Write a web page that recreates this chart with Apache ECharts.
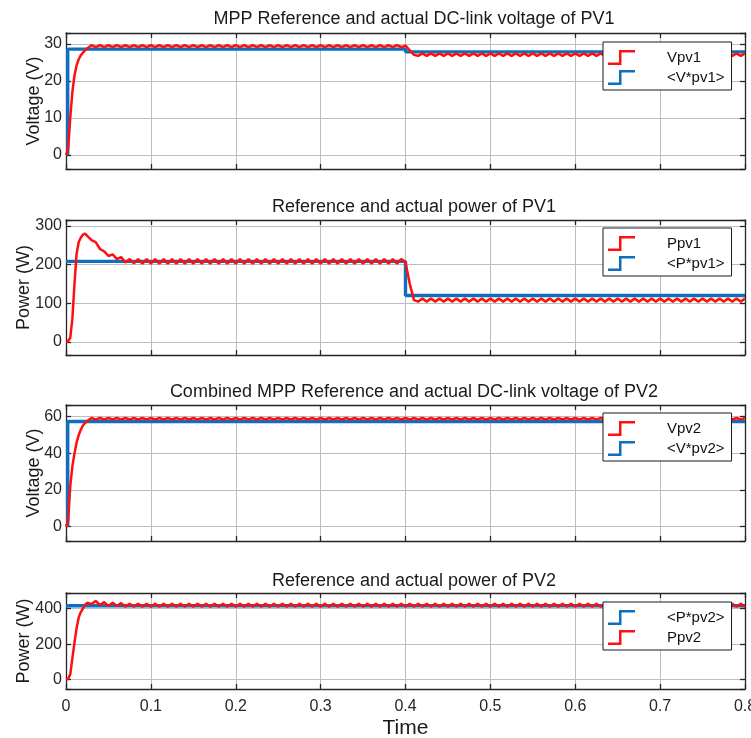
<!DOCTYPE html>
<html>
<head>
<meta charset="utf-8">
<script src="https://cdn.jsdelivr.net/npm/echarts@6/dist/echarts.min.js"></script>
<style>html,body{margin:0;padding:0;background:#fff;}#c{width:751px;height:738px;}</style>
</head>
<body>
<div id="c"></div>
<script>
// ---------- DATA ----------
const titles = [
  'MPP Reference and actual DC-link voltage of PV1',
  'Reference and actual power of PV1',
  'Combined MPP Reference and actual DC-link voltage of PV2',
  'Reference and actual power of PV2'
];
const yNames = ['Voltage (V)', 'Power (W)', 'Voltage (V)', 'Power (W)'];
const xTicks = [0, 0.1, 0.2, 0.3, 0.4, 0.5, 0.6, 0.7, 0.8];
const yTicks1 = [0, 10, 20, 30];
const yTicks2 = [0, 100, 200, 300];
const yTicks3 = [0, 20, 40, 60];
const yTicks4 = [0, 200, 400];

// sample times (s)
const T = [0,0.0025,0.005,0.0075,0.01,0.0125,0.015,0.0175,0.02,0.0225,0.025,
  0.03,0.035,0.04,0.045,0.05,0.055,0.06,0.065,0.07,0.075,0.08,0.085,0.09,0.095,
  0.1,0.105,0.11,0.115,0.12,0.125,0.13,0.135,0.14,0.145,0.15,0.155,0.16,0.165,0.17,0.175,0.18,0.185,0.19,0.195,
  0.2,0.205,0.21,0.215,0.22,0.225,0.23,0.235,0.24,0.245,0.25,0.255,0.26,0.265,0.27,0.275,0.28,0.285,0.29,0.295,
  0.3,0.305,0.31,0.315,0.32,0.325,0.33,0.335,0.34,0.345,0.35,0.355,0.36,0.365,0.37,0.375,0.38,0.385,0.39,0.395,
  0.4,0.405,0.41,0.415,0.42,0.425,0.43,0.435,0.44,0.445,0.45,0.455,0.46,0.465,0.47,0.475,0.48,0.485,0.49,0.495,
  0.5,0.505,0.51,0.515,0.52,0.525,0.53,0.535,0.54,0.545,0.55,0.555,0.56,0.565,0.57,0.575,0.58,0.585,0.59,0.595,
  0.6,0.605,0.61,0.615,0.62,0.625,0.63,0.635,0.64,0.645,0.65,0.655,0.66,0.665,0.67,0.675,0.68,0.685,0.69,0.695,
  0.7,0.705,0.71,0.715,0.72,0.725,0.73,0.735,0.74,0.745,0.75,0.755,0.76,0.765,0.77,0.775,0.78,0.785,0.79,0.795,
  0.8];

// Panel 1: Vpv1 (actual) and <V*pv1> (reference)
const Vpv1 = [0,1.5,10,17,21.5,24.3,25.9,27,27.7,28.3,28.8,
  29.7,29.15,29.7,29.15,29.7,29.15,29.7,29.15,29.7,29.15,29.7,29.15,29.7,29.15,
  29.7,29.15,29.7,29.15,29.7,29.15,29.7,29.15,29.7,29.15,29.7,29.15,29.7,29.15,29.7,29.15,29.7,29.15,29.7,29.15,
  29.7,29.15,29.7,29.15,29.7,29.15,29.7,29.15,29.7,29.15,29.7,29.15,29.7,29.15,29.7,29.15,29.7,29.15,29.7,29.15,
  29.7,29.15,29.7,29.15,29.7,29.15,29.7,29.15,29.7,29.15,29.7,29.15,29.7,29.15,29.7,29.15,29.7,29.15,29.7,29.15,
  29.6,28.3,27.1,26.8,27.5,26.8,27.5,26.8,27.5,26.8,27.5,26.8,27.5,26.8,27.5,26.8,27.5,26.8,27.5,26.8,
  27.5,26.8,27.5,26.8,27.5,26.8,27.5,26.8,27.5,26.8,27.5,26.8,27.5,26.8,27.5,26.8,27.5,26.8,27.5,26.8,
  27.5,26.8,27.5,26.8,27.5,26.8,27.5,26.8,27.5,26.8,27.5,26.8,27.5,26.8,27.5,26.8,27.5,26.8,27.5,26.8,
  27.5,26.8,27.5,26.8,27.5,26.8,27.5,26.8,27.5,26.8,27.5,26.8,27.5,26.8,27.5,26.8,27.5,26.8,27.5,26.8,
  27.5];
const refT1 = [0.002, 0.002, 0.4, 0.4, 0.8];
const Vref1 = [0, 28.65, 28.65, 27.9, 27.9];

// Panel 2: Ppv1 (actual) and <P*pv1> (reference)
const Ppv1 = [0,2,10,60,150,228,258,270,277,280,274,
  263,258,240,234,222,226,214,219,205,214,203,214,202,214,
  202,214,202,214,202,214,202,214,202,214,202,214,202,214,202,214,202,214,202,214,
  202,214,202,214,202,214,202,214,202,214,202,214,202,214,202,214,202,214,202,214,
  202,214,202,214,202,214,202,214,202,214,202,214,202,214,202,214,202,214,202,214,
  206,150,108,104,112,104,112,104,112,104,112,104,112,104,112,104,112,104,112,104,
  112,104,112,104,112,104,112,104,112,104,112,104,112,104,112,104,112,104,112,104,
  112,104,112,104,112,104,112,104,112,104,112,104,112,104,112,104,112,104,112,104,
  112,104,112,104,112,104,112,104,112,104,112,104,112,104,112,104,112,104,112,104,
  112];
const refT2 = [0, 0.4, 0.4, 0.8];
const Pref1 = [208, 208, 120, 120];

// Panel 3: Vpv2 (actual) and <V*pv2> (reference)
const Vpv2 = [0,3,22,33,40,46,50,53,55.2,56.6,57.6,
  59.3,58.5,59.3,58.5,59.3,58.5,59.3,58.5,59.3,58.5,59.3,58.5,59.3,58.5,
  59.3,58.5,59.3,58.5,59.3,58.5,59.3,58.5,59.3,58.5,59.3,58.5,59.3,58.5,59.3,58.5,59.3,58.5,59.3,58.5,
  59.3,58.5,59.3,58.5,59.3,58.5,59.3,58.5,59.3,58.5,59.3,58.5,59.3,58.5,59.3,58.5,59.3,58.5,59.3,58.5,
  59.3,58.5,59.3,58.5,59.3,58.5,59.3,58.5,59.3,58.5,59.3,58.5,59.3,58.5,59.3,58.5,59.3,58.5,59.3,58.5,
  59.3,58.5,59.3,58.5,59.3,58.5,59.3,58.5,59.3,58.5,59.3,58.5,59.3,58.5,59.3,58.5,59.3,58.5,59.3,58.5,
  59.3,58.5,59.3,58.5,59.3,58.5,59.3,58.5,59.3,58.5,59.3,58.5,59.3,58.5,59.3,58.5,59.3,58.5,59.3,58.5,
  59.3,58.5,59.3,58.5,59.3,58.5,59.3,58.5,59.3,58.5,59.3,58.5,59.3,58.5,59.3,58.5,59.3,58.5,59.3,58.5,
  59.3,58.5,59.3,58.5,59.3,58.5,59.3,58.5,59.3,58.5,59.3,58.5,59.3,58.5,59.3,58.5,59.3,58.5,59.3,58.5,
  59.3];
const refT3 = [0.002, 0.002, 0.8];
const Vref2 = [0, 57.4, 57.4];

// Panel 4: <P*pv2> (reference) and Ppv2 (actual)
const Ppv2 = [0,5,30,120,210,290,350,380,400,420,432,
  425,442,420,436,414,432,414,430,410,427,410,427,410,427,
  410,427,410,427,410,427,410,427,410,427,410,427,410,427,410,427,410,427,410,427,
  410,427,410,427,410,427,410,427,410,427,410,427,410,427,410,427,410,427,410,427,
  410,427,410,427,410,427,410,427,410,427,410,427,410,427,410,427,410,427,410,427,
  410,427,410,427,410,427,410,427,410,427,410,427,410,427,410,427,410,427,410,427,
  410,427,410,427,410,427,410,427,410,427,410,427,410,427,410,427,410,427,410,427,
  410,427,410,427,410,427,410,427,410,427,410,427,410,427,410,427,410,427,410,427,
  410,427,410,427,410,427,410,427,410,427,410,427,410,427,410,427,410,427,410,427,
  410];
const refT4 = [0, 0.8];
const Pref2 = [415, 415];

// ---------- LAYOUT / STYLE ----------
const FONT = '"Liberation Sans", Arial, Helvetica, sans-serif';
const RED = '#ff1010', BLUE = '#0f6fbf';
const AXC = '#262626', GRIDC = '#bdbdbd';
const grids = [
  {left: 66, right: 6, top: 33, height: 136, outerBoundsMode: 'none', containLabel: false},
  {left: 66, right: 6, top: 220, height: 135, outerBoundsMode: 'none', containLabel: false},
  {left: 66, right: 6, top: 405, height: 136, outerBoundsMode: 'none', containLabel: false},
  {left: 66, right: 6, top: 593, height: 96, outerBoundsMode: 'none', containLabel: false}
];
const yRanges = [[-3.8, 33], [-34, 315], [-7.8, 66.4], [-52, 487]];
const yTickSets = [yTicks1, yTicks2, yTicks3, yTicks4];
const yNameGaps = [23, 33, 23, 33];
const titleTops = [10, 198, 383, 572];
const legendTops = [42, 228, 413, 602];

const pairs = (xs, ys) => xs.map((x, i) => [x, ys[i]]);
const onTick = (ticks, v) => ticks.some(t => Math.abs(t - v) < 1e-9);

const xAxes = [], yAxes = [];
for (let i = 0; i < 4; i++) {
  xAxes.push({
    type: 'value', gridIndex: i, min: 0, max: 0.8, interval: 0.1, position: 'bottom',
    axisLine: {show: true, onZero: false, lineStyle: {color: AXC, width: 1.3}},
    axisTick: {show: true, inside: true, length: 5, lineStyle: {color: AXC, width: 1.3}},
    splitLine: {show: true, lineStyle: {color: GRIDC, width: 1}},
    axisLabel: {show: i === 3, margin: 10, fontSize: 16, color: '#262626', fontFamily: FONT,
      formatter: v => onTick(xTicks, v) ? String(Math.round(v * 10) / 10) : ''},
    name: i === 3 ? 'Time' : '', nameLocation: 'middle', nameGap: 29, nameMoveOverlap: false,
    nameTextStyle: {fontSize: 21, color: '#1a1a1a', fontFamily: FONT}
  });
  xAxes.push({
    type: 'value', gridIndex: i, min: 0, max: 0.8, interval: 0.1, position: 'top',
    axisLine: {show: true, onZero: false, lineStyle: {color: AXC, width: 1.3}},
    axisTick: {show: true, inside: true, length: 5, lineStyle: {color: AXC, width: 1.3}},
    splitLine: {show: false}, axisLabel: {show: false}
  });
  yAxes.push({
    type: 'value', gridIndex: i, min: yRanges[i][0], max: yRanges[i][1], splitNumber: 3, position: 'left',
    axisLine: {show: true, onZero: false, lineStyle: {color: AXC, width: 1.3}},
    axisTick: {show: true, inside: true, length: 5, lineStyle: {color: AXC, width: 1.3}},
    splitLine: {show: true, lineStyle: {color: GRIDC, width: 1}},
    axisLabel: {margin: 4, fontSize: 16, color: '#262626', fontFamily: FONT,
      formatter: (ticks => v => onTick(ticks, v) ? String(v) : '')(yTickSets[i])},
    name: yNames[i], nameLocation: 'middle', nameGap: yNameGaps[i], nameRotate: 90, nameMoveOverlap: false,
    nameTextStyle: {fontSize: 18, color: '#1a1a1a', fontFamily: FONT}
  });
  yAxes.push({
    type: 'value', gridIndex: i, min: yRanges[i][0], max: yRanges[i][1], splitNumber: 3, position: 'right',
    axisLine: {show: true, onZero: false, lineStyle: {color: AXC, width: 1.3}},
    axisTick: {show: true, inside: true, length: 5, lineStyle: {color: AXC, width: 1.3}},
    splitLine: {show: false}, axisLabel: {show: false}
  });
}

function line(name, xs, ys, color, width, panel, z) {
  return {
    name, type: 'line', xAxisIndex: panel * 2, yAxisIndex: panel * 2,
    data: pairs(xs, ys), showSymbol: false, symbol: 'none', z,
    lineStyle: {color, width}, itemStyle: {color}, emphasis: {disabled: true}
  };
}

const series = [
  line('<V*pv1>', refT1, Vref1, BLUE, 3.4, 0, 2),
  line('Vpv1', T, Vpv1, RED, 2.5, 0, 3),
  line('<P*pv1>', refT2, Pref1, BLUE, 3.4, 1, 2),
  line('Ppv1', T, Ppv1, RED, 2.5, 1, 3),
  line('<V*pv2>', refT3, Vref2, BLUE, 3.4, 2, 2),
  line('Vpv2', T, Vpv2, RED, 2.5, 2, 3),
  line('<P*pv2>', refT4, Pref2, BLUE, 3.4, 3, 2),
  line('Ppv2', T, Ppv2, RED, 2.5, 3, 3)
];

const STEP = 'path://M0,12.5 L11,12.5 L11,0 L27,0 L27,2.5 L13.5,2.5 L13.5,15 L0,15 Z';
const legendData = [['Vpv1', '<V*pv1>'], ['Ppv1', '<P*pv1>'], ['Vpv2', '<V*pv2>'], ['<P*pv2>', 'Ppv2']];
const legends = legendData.map((d, i) => ({
  data: d.map(n => ({name: n, icon: STEP})), orient: 'vertical', left: 603, top: legendTops[i],
  itemWidth: 27, itemHeight: 15, itemGap: 5, padding: [8, 7, 5, 5],
  backgroundColor: '#fff', borderColor: '#1a1a1a', borderWidth: 1, borderRadius: 0,
  selectedMode: false,
  textStyle: {fontSize: 15, color: '#111', fontFamily: FONT, padding: [0, 0, 0, 27]}
}));

const titleComps = titles.map((t, i) => ({
  text: t, left: 414, top: titleTops[i], textAlign: 'center', padding: 0,
  textStyle: {fontSize: 18, fontWeight: 'normal', color: '#1a1a1a', fontFamily: FONT}
}));

const chart = echarts.init(document.getElementById('c'), null, {renderer: 'canvas'});
chart.setOption({
  animation: false,
  backgroundColor: '#ffffff',
  title: titleComps,
  legend: legends,
  grid: grids,
  xAxis: xAxes,
  yAxis: yAxes,
  series
});
</script>
</body>
</html>
